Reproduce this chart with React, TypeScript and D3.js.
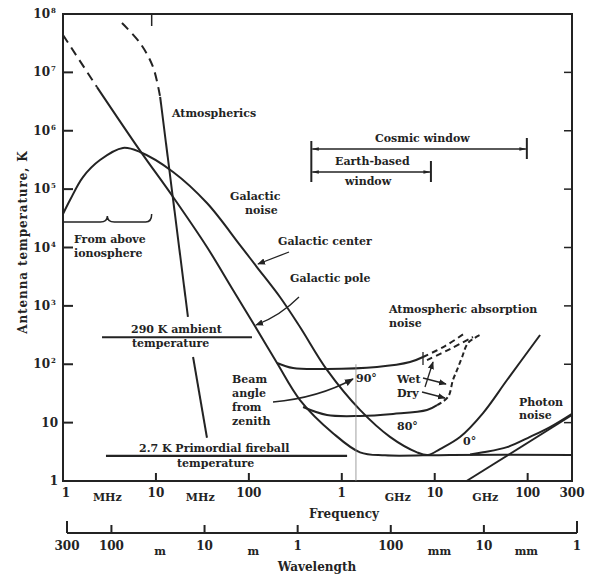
import React from "react";
import * as d3 from "d3";

type P = [number, number]; // [frequency MHz, antenna temperature K]

// ---- data (frequency in MHz, temperature in K) ----
const galacticCenter: P[] = [
  [1, 3.75e4], [1.19, 6.5e4], [1.64, 1.61e5], [2.5, 3.15e5], [4.42, 5.07e5], [6.74, 4.32e5],
  [15.3, 1.97e5], [35.4, 5.78e4], [80.3, 1.1e4], [122, 4630], [216, 1420], [355, 435],
  [693, 80], [1570, 16.5], [3300, 5.7], [6450, 3.1], [8470, 2.79],
];
const zenith0: P[] = [[8470, 2.79], [11400, 3.53], [18700, 5.67], [33100, 14.6], [60000, 53.7], [136000, 317]];
const galacticPoleDashed: P[] = [[1, 4.37e7], [2.32, 5.6e6]];
const galacticPole: P[] = [
  [2.32, 5.6e6], [6.74, 4.57e5], [15.3, 7.33e4], [35.4, 1.02e4], [67.5, 1870], [111, 509],
  [201, 105], [355, 24.4], [804, 6.6], [1570, 3.1], [2920, 2.75], [14600, 2.8], [300000, 2.8],
];
const atmosphericsDashed: P[] = [[4.31, 7e7], [6.74, 3.19e7], [9.3, 1.24e7], [11.1, 3.79e6]];
const atmosphericsUpper: P[] = [[11.1, 3.79e6], [22.1, 645]];
const atmosphericsLower: P[] = [[25.1, 133], [35.4, 5.5]];
const beam90: P[] = [[201, 105], [299, 86], [693, 83], [2390, 89.7], [5420, 109], [7480, 133]];
const wet90: P[] = [[7480, 133], [12900, 205], [21200, 343]];
const dry90: P[] = [[8260, 118], [14600, 182], [25800, 293]];
const beam80: P[] = [[383, 18.5], [693, 13.5], [1570, 13], [3560, 14.1], [8260, 16.5], [10600, 20]];
const dry80: P[] = [[10600, 20], [13900, 27.5], [15700, 53.7], [17400, 80], [19700, 133], [22800, 231], [30700, 317]];
const photonNoise: P[] = [[22000, 1], [300000, 13.5]];
const photonPlusFloor: P[] = [[24000, 2.85], [33100, 3.1], [60000, 3.8], [106000, 5.7], [174000, 8.4], [300000, 14.2]];
const fireball: P[] = [[2.9, 2.7], [1140, 2.7]];
const ambient: P[] = [[2.63, 290], [108, 290]];
const hydrogenLine: P[] = [[1420, 100], [1420, 1]];

const cosmicWindow = [470, 98000];
const earthWindow = [470, 9100];
const ionosphereBrace = [1, 9];

const yTicks = [1, 10, 100, 1e3, 1e4, 1e5, 1e6, 1e7, 1e8];
const freqTicks = [1, 10, 100, 1000, 10000, 100000, 300000];
const freqTickLabels = ["1", "10", "100", "1", "10", "100", "300"];
const freqUnitPos = [3, 30, 4000, 35000];
const freqUnitLabels = ["MHz", "MHz", "GHz", "GHz"];
const wlTicks = [300, 100, 10, 1, 0.1, 0.01, 0.001];
const wlTickLabels = ["300", "100", "10", "1", "100", "10", "1"];
const wlUnitPos = [30, 3, 0.03, 0.0035];
const wlUnitLabels = ["m", "m", "mm", "mm"];

const INK = "#232323";

export default function App() {
  const x = d3.scaleLog().domain([1, 300000]).range([63, 572]);
  const y = d3.scaleLog().domain([1, 1e8]).range([481, 14]);
  const wl = d3.scaleLog().domain([300, 0.001]).range([67, 577]);
  const line = d3.line<P>().x((d) => x(d[0])).y((d) => y(d[1])).curve(d3.curveCatmullRom.alpha(0.5));
  const lin = d3.line<P>().x((d) => x(d[0])).y((d) => y(d[1]));

  const L = (d: P[], dash?: string, w = 2) => (
    <path d={line(d) || ""} fill="none" stroke={INK} strokeWidth={w} strokeDasharray={dash} />
  );

  const x0 = x(1), x1 = x(300000), yTop = y(1e8), yBot = y(1);
  const wlY = 533;

  const T = (tx: number, ty: number, s: string, size = 11, anchor: "start" | "middle" | "end" = "start") => (
    <text x={tx} y={ty} fontSize={size} textAnchor={anchor}>{s}</text>
  );

  const bx0 = x(ionosphereBrace[0]), bx1 = x(ionosphereBrace[1]), bm = (bx0 + bx1) / 2;
  const braceY = 222;

  return (
    <svg width={590} height={575} style={{ position: "absolute", left: 0, top: 0, background: "#fff" }}
      fontFamily="'DejaVu Serif', serif" fontWeight="bold" fill={INK}>
      <defs>
        <marker id="ah" viewBox="0 0 10 10" refX="9" refY="5" markerWidth="6" markerHeight="6" orient="auto-start-reverse">
          <path d="M0,1 L10,5 L0,9 z" fill={INK} />
        </marker>
        <marker id="ah2" viewBox="0 0 14 10" refX="13" refY="5" markerWidth="10" markerHeight="5" markerUnits="userSpaceOnUse" orient="auto-start-reverse">
          <path d="M0,1.5 L14,5 L0,8.5 z" fill={INK} />
        </marker>
      </defs>

      {/* frame */}
      <rect x={x0} y={yTop} width={x1 - x0} height={yBot - yTop} fill="none" stroke={INK} strokeWidth={2} />
      {yTicks.slice(1, -1).map((t) => (
        <g key={"yt" + t}>
          <line x1={x0} x2={x0 + 10} y1={y(t)} y2={y(t)} stroke={INK} strokeWidth={2} />
          <line x1={x1} x2={x1 - 8} y1={y(t)} y2={y(t)} stroke={INK} strokeWidth={1.5} />
        </g>
      ))}
      {yTicks.map((t) => {
        const e = Math.round(Math.log10(t));
        return (
          <text key={"yl" + t} x={e >= 2 ? 50 : 58} y={y(t) + 4} fontSize={12} textAnchor="end">
            {e === 0 ? "1" : "10"}
          </text>
        );
      })}
      {yTicks.filter((t) => t >= 100).map((t) => (
        <text key={"ye" + t} x={51} y={y(t) - 1} fontSize={7}>{Math.round(Math.log10(t))}</text>
      ))}
      <line x1={x(9)} x2={x(9)} y1={yTop} y2={yTop + 12} stroke={INK} strokeWidth={1.5} />
      {freqTicks.slice(1, -1).map((t) => (
        <line key={"xt" + t} x1={x(t)} x2={x(t)} y1={yBot} y2={yBot - 8} stroke={INK} strokeWidth={2} />
      ))}
      {freqTicks.map((t, i) => (
        <text key={"xl" + t} x={x(t) + (i === 0 ? 3 : 0)} y={497} fontSize={12} textAnchor="middle">{freqTickLabels[i]}</text>
      ))}
      {freqUnitPos.map((t, i) => (
        <text key={"xu" + i} x={x(t)} y={501} fontSize={11} textAnchor="middle">{freqUnitLabels[i]}</text>
      ))}
      <text x={344} y={518} fontSize={12} textAnchor="middle">Frequency</text>

      {/* wavelength axis */}
      <line x1={wl(300)} x2={wl(0.001)} y1={wlY} y2={wlY} stroke={INK} strokeWidth={2} />
      {wlTicks.map((t, i) => (
        <line key={"wt" + t} x1={wl(t)} x2={wl(t)} y1={wlY}
          y2={wlY - (i === 0 || i === wlTicks.length - 1 ? 12 : 8)} stroke={INK} strokeWidth={2} />
      ))}
      {wlTicks.map((t, i) => (
        <text key={"wl" + t} x={wl(t)} y={550} fontSize={12} textAnchor="middle">{wlTickLabels[i]}</text>
      ))}
      {wlUnitPos.map((t, i) => (
        <text key={"wu" + i} x={wl(t)} y={555} fontSize={11} textAnchor="middle">{wlUnitLabels[i]}</text>
      ))}
      <text x={317} y={571} fontSize={12} textAnchor="middle">Wavelength</text>

      <text transform="translate(27,242) rotate(-90)" fontSize={12} textAnchor="middle" letterSpacing={0.9}>
        Antenna temperature, K
      </text>

      {/* curves */}
      {L(galacticPoleDashed, "9,6")}
      {L(galacticPole)}
      {L([...galacticCenter, ...zenith0.slice(1)])}
      {L(atmosphericsDashed, "9,6")}
      <path d={lin(atmosphericsUpper) || ""} fill="none" stroke={INK} strokeWidth={2} />
      <path d={lin(atmosphericsLower) || ""} fill="none" stroke={INK} strokeWidth={2} />
      {L(beam90)}
      {L(wet90, "6,4")}
      {L(dry90, "6,4")}
      {L(beam80)}
      {L(dry80, "5,3")}
      <path d={lin(photonNoise) || ""} fill="none" stroke={INK} strokeWidth={2} />
      {L(photonPlusFloor)}
      <path d={lin(fireball) || ""} fill="none" stroke={INK} strokeWidth={2.2} />
      <path d={lin(ambient) || ""} fill="none" stroke={INK} strokeWidth={2.2} />
      <path d={lin(hydrogenLine) || ""} fill="none" stroke="#888" strokeWidth={0.8} />

      {/* brace */}
      <path d={`M${bx0},${braceY} L${bm - 7},${braceY} Q${bm},${braceY} ${bm},${braceY - 6} Q${bm},${braceY} ${bm + 7},${braceY} L${bx1 - 6},${braceY} Q${bx1},${braceY} ${bx1},${braceY - 8}`}
        fill="none" stroke={INK} strokeWidth={1.5} />

      {/* windows */}
      <line x1={x(cosmicWindow[0])} x2={x(cosmicWindow[0])} y1={141} y2={182} stroke={INK} strokeWidth={2} />
      <line x1={x(cosmicWindow[1])} x2={x(cosmicWindow[1])} y1={138} y2={159} stroke={INK} strokeWidth={2} />
      <line x1={x(earthWindow[1])} x2={x(earthWindow[1])} y1={161} y2={182} stroke={INK} strokeWidth={2} />
      <line x1={x(cosmicWindow[0]) + 1} x2={x(cosmicWindow[1]) - 1} y1={149} y2={149} stroke={INK} strokeWidth={1.3}
        markerStart="url(#ah2)" markerEnd="url(#ah2)" />
      <line x1={x(earthWindow[0]) + 1} x2={x(earthWindow[1]) - 1} y1={172} y2={172} stroke={INK} strokeWidth={1.3}
        markerStart="url(#ah2)" markerEnd="url(#ah2)" />

      {/* arrows */}
      <path d="M289,252 L258,264" fill="none" stroke={INK} strokeWidth={1.3} markerEnd="url(#ah)" />
      <path d="M299,297 Q280,316 256,325" fill="none" stroke={INK} strokeWidth={1.3} markerEnd="url(#ah)" />
      <path d="M273,402 Q318,398 353,379" fill="none" stroke={INK} strokeWidth={1.5} markerEnd="url(#ah)" />
      <path d="M425,387 L433,362" fill="none" stroke={INK} strokeWidth={1.3} markerEnd="url(#ah)" />
      <path d="M423,378 L446,384" fill="none" stroke={INK} strokeWidth={1.3} markerEnd="url(#ah)" />
      <path d="M422,392 L445,398" fill="none" stroke={INK} strokeWidth={1.3} markerEnd="url(#ah)" />
      <line x1={423} x2={423} y1={352} y2={365} stroke={INK} strokeWidth={1.3} />

      {/* labels */}
      {T(172, 117, "Atmospherics")}
      {T(230, 200, "Galactic")}
      {T(245, 214, "noise")}
      {T(278, 245, "Galactic center")}
      {T(290, 282, "Galactic pole")}
      {T(375, 142, "Cosmic window")}
      {T(335, 165, "Earth-based")}
      {T(345, 185, "window")}
      {T(74, 243, "From above")}
      {T(74, 257, "ionosphere")}
      {T(131, 333, "290 K ambient")}
      {T(132, 347, "temperature")}
      {T(389, 313, "Atmospheric absorption")}
      {T(389, 327, "noise")}
      {T(232, 383, "Beam")}
      {T(232, 397, "angle")}
      {T(232, 411, "from")}
      {T(232, 425, "zenith")}
      {T(356, 382, "90°")}
      {T(397, 383, "Wet")}
      {T(397, 397, "Dry")}
      {T(397, 430, "80°")}
      {T(463, 445, "0°")}
      {T(519, 406, "Photon")}
      {T(519, 419, "noise")}
      {T(139, 452, "2.7 K Primordial fireball")}
      {T(177, 467, "temperature")}
    </svg>
  );
}
